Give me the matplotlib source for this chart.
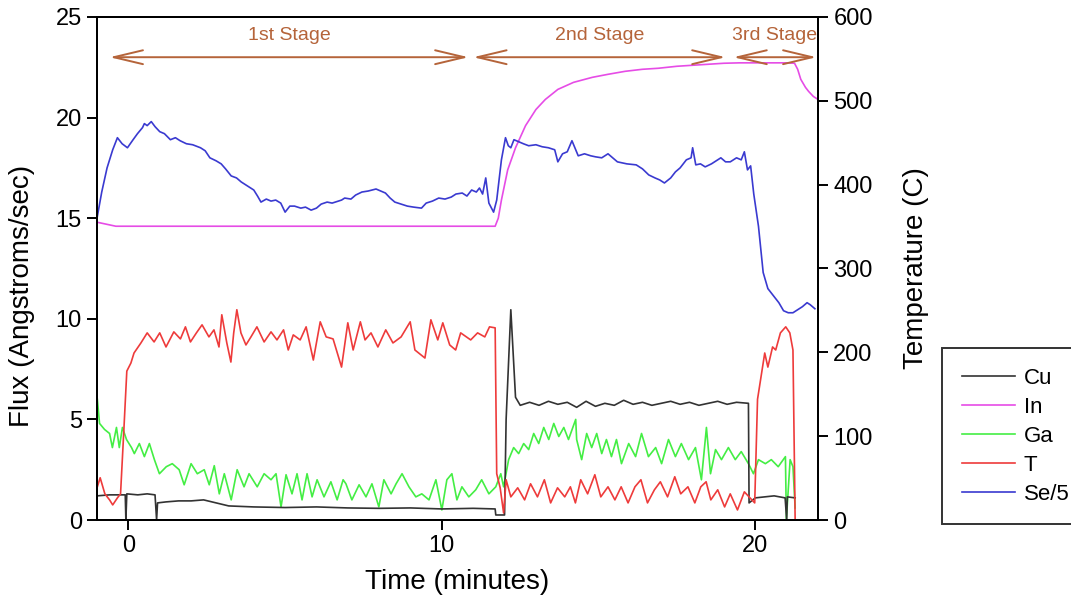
import matplotlib
matplotlib.use('Agg')
import matplotlib.pyplot as plt

plt.rcParams['font.family'] = ['Liberation Sans', 'DejaVu Sans']

# ---------------- data ----------------
t_T = [-1.0, -0.9, -0.75, -0.6, -0.5, -0.35, -0.25, -0.15, -0.05, 0.08, 0.18, 0.4, 0.6, 0.82, 1.0,
       1.2, 1.45, 1.66, 1.82, 1.98, 2.17, 2.35, 2.57, 2.73, 2.89, 2.98, 3.14, 3.27, 3.36, 3.46,
       3.59, 3.75, 3.91, 4.1, 4.33, 4.55, 4.74, 4.95, 5.1, 5.26, 5.48, 5.67, 5.9, 6.12, 6.31,
       6.53, 6.8, 7.0, 7.17, 7.4, 7.55, 7.74, 7.96, 8.21, 8.44, 8.7, 8.99, 9.14, 9.46, 9.65,
       9.87, 10.03, 10.25, 10.44, 10.6, 10.92, 11.14, 11.37, 11.52, 11.7, 11.75, 11.86, 11.97,
       12.05, 12.2, 12.42, 12.64, 12.83, 13.05, 13.27, 13.47, 13.69, 13.92, 14.1, 14.26, 14.43,
       14.65, 14.88, 15.07, 15.3, 15.52, 15.72, 15.94, 16.16, 16.35, 16.56, 16.78, 16.97, 17.2,
       17.43, 17.62, 17.85, 18.07, 18.26, 18.43, 18.58, 18.8, 19.02, 19.2, 19.43, 19.65, 19.8,
       19.98, 20.07, 20.17, 20.3, 20.4, 20.55, 20.65, 20.8, 20.97, 21.1, 21.2, 21.27]
T = [1.6, 2.1, 1.3, 1.0, 0.75, 1.1, 1.3, 4.3, 7.4, 7.8, 8.3, 8.8, 9.3, 8.85, 9.3,
     8.6, 9.35, 9.0, 9.6, 8.85, 9.3, 9.7, 9.1, 9.45, 8.6, 10.2, 8.8, 7.85, 9.3, 10.45,
     9.3, 8.7, 9.1, 9.6, 8.85, 9.35, 8.95, 9.45, 8.45, 9.2, 8.95, 9.6, 7.95, 9.85, 9.1,
     9.0, 7.6, 9.8, 8.45, 9.85, 8.95, 9.3, 8.6, 9.45, 8.8, 9.1, 9.85, 8.45, 8.05, 9.95,
     8.95, 9.8, 8.7, 8.45, 9.3, 8.95, 9.3, 9.1, 9.6, 9.55, 2.3, 1.6, 0.35,
     2.0, 1.15, 1.6, 1.0, 1.8, 1.15, 2.0, 0.85, 1.6, 1.15, 1.65, 0.85, 2.0,
     1.3, 2.25, 1.15, 1.65, 1.0, 1.65, 0.85, 1.65, 2.0, 0.85, 1.5, 1.9, 1.15,
     2.15, 1.3, 1.65, 0.85, 1.65, 1.9, 1.0, 1.5, 0.65, 1.3, 0.5, 1.4, 1.15,
     0.85, 6.0, 7.0, 8.3, 7.6, 8.6, 8.45, 9.3, 9.6, 9.3, 8.45, 0.0]

t_Cu = [-1.0, -0.6, -0.1, -0.08, -0.05, 0.3, 0.6, 0.85, 0.9, 0.93, 1.2, 1.6, 2.0, 2.4, 2.8,
        3.2, 4.0, 5.0, 6.0, 7.0, 8.0, 9.0, 10.0, 11.0, 11.7, 11.72, 12.0, 12.05, 12.2, 12.35,
        12.5, 12.8, 13.1, 13.4, 13.7, 14.0, 14.3, 14.6, 14.9, 15.2, 15.5, 15.8, 16.1, 16.4,
        16.7, 17.0, 17.3, 17.6, 17.9, 18.2, 18.5, 18.8, 19.1, 19.4, 19.78, 19.8, 20.0, 20.3,
        20.6, 20.95, 21.0, 21.02, 21.27]
Cu = [1.2, 1.25, 1.25, 0.0, 1.3, 1.25, 1.3, 1.25, 0.0, 0.85, 0.9, 0.95, 0.95, 1.0, 0.85,
      0.7, 0.65, 0.62, 0.65, 0.6, 0.58, 0.6, 0.55, 0.58, 0.55, 0.25, 0.25, 5.0, 10.45, 6.1,
      5.7, 5.85, 5.7, 5.9, 5.75, 5.85, 5.6, 5.9, 5.65, 5.8, 5.7, 5.95, 5.75, 5.85,
      5.7, 5.8, 5.9, 5.75, 5.85, 5.7, 5.8, 5.9, 5.75, 5.85, 5.8, 0.85, 1.1, 1.15,
      1.2, 1.1, 0.0, 1.15, 1.1]

t_Ga = [-0.99, -0.92, -0.76, -0.6, -0.51, -0.38, -0.29, -0.19, -0.06, 0.1, 0.19, 0.35, 0.51,
        0.67, 0.83, 0.99, 1.21, 1.4, 1.62, 1.78, 2.0, 2.2, 2.42, 2.58, 2.74, 2.9, 3.06, 3.28,
        3.47, 3.69, 3.85, 4.11, 4.33, 4.55, 4.71, 4.87, 5.03, 5.22, 5.38, 5.54, 5.7, 5.86,
        6.02, 6.24, 6.46, 6.66, 6.85, 6.94, 7.13, 7.36, 7.58, 7.77, 7.99, 8.15, 8.38, 8.54,
        8.73, 8.95, 9.17, 9.36, 9.59, 9.81, 10.0, 10.16, 10.32, 10.48, 10.64, 10.86, 11.08,
        11.27, 11.5, 11.72, 11.88, 11.97, 12.13, 12.29, 12.45, 12.61, 12.77, 12.93, 13.09,
        13.25, 13.41, 13.57, 13.73, 13.89, 14.04, 14.27, 14.3, 14.46, 14.62, 14.78, 14.94,
        15.1, 15.25, 15.41, 15.57, 15.73, 15.96, 16.18, 16.37, 16.59, 16.82, 17.01, 17.23,
        17.45, 17.64, 17.87, 18.09, 18.28, 18.44, 18.57, 18.73, 18.92, 19.14, 19.36, 19.55,
        19.78, 19.94, 20.1, 20.32, 20.51, 20.73, 20.96, 20.99, 21.11, 21.2, 21.27]
Ga = [6.0, 4.8, 4.5, 4.3, 3.6, 4.6, 3.6, 4.6, 4.0, 3.6, 3.3, 3.8, 3.15,
      3.8, 3.0, 2.3, 2.65, 2.8, 2.5, 1.75, 2.8, 2.3, 2.5, 1.75, 2.7, 1.3, 2.3, 1.0,
      2.5, 1.65, 2.3, 1.65, 2.3, 2.0, 2.3, 0.65, 2.25, 1.3, 2.3, 1.0, 2.3, 1.15,
      2.0, 1.15, 1.9, 1.0, 2.0, 1.8, 1.0, 1.75, 1.15, 1.8, 0.65, 2.0, 1.3, 1.8,
      2.3, 1.65, 1.15, 1.3, 1.0, 2.0, 0.5, 2.0, 2.3, 1.0, 1.65, 1.15, 1.5,
      2.0, 1.3, 1.65, 2.3, 1.65, 3.0, 3.6, 3.3, 3.8, 3.5, 4.3, 3.8,
      4.6, 4.0, 4.8, 4.15, 4.6, 4.0, 5.0, 4.0, 3.0, 4.3, 3.6, 4.3,
      3.3, 4.0, 3.15, 4.0, 2.8, 3.8, 3.15, 4.3, 3.15, 3.6, 2.8, 4.0,
      3.15, 3.8, 3.0, 3.6, 2.0, 4.6, 2.3, 3.5, 3.0, 3.6, 3.0, 3.4,
      2.8, 2.3, 3.0, 2.8, 3.0, 2.65, 3.15, 0.0, 3.0, 2.65, 0.6]

t_Se = [-1.0, -0.85, -0.68, -0.5, -0.35, -0.2, -0.03, 0.15, 0.29, 0.45, 0.51, 0.6, 0.73, 0.85,
        1.0, 1.15, 1.34, 1.5, 1.65, 1.85, 2.05, 2.3, 2.45, 2.6, 2.8, 2.96, 3.1, 3.28, 3.45,
        3.6, 3.8, 4.0, 4.12, 4.23, 4.4, 4.55, 4.7, 4.86, 5.0, 5.15, 5.3, 5.5, 5.65, 5.83, 6.0,
        6.15, 6.34, 6.5, 6.8, 6.9, 7.1, 7.25, 7.45, 7.65, 7.9, 8.05, 8.2, 8.35, 8.5, 8.7, 8.9,
        9.1, 9.35, 9.5, 9.7, 9.9, 10.1, 10.3, 10.45, 10.65, 10.8, 10.95, 11.1, 11.2, 11.3, 11.4,
        11.5, 11.65, 11.75, 11.9, 12.03, 12.12, 12.2, 12.3, 12.45, 12.6, 12.77, 13.0, 13.2,
        13.4, 13.6, 13.7, 13.85, 14.0, 14.15, 14.35, 14.55, 14.75, 14.9, 15.1, 15.3, 15.45,
        15.6, 15.9, 16.2, 16.4, 16.6, 16.8, 16.95, 17.1, 17.3, 17.45, 17.6, 17.8, 17.95, 18.0,
        18.1, 18.25, 18.4, 18.6, 18.75, 18.9, 19.05, 19.2, 19.4, 19.55, 19.65, 19.75, 19.85,
        19.95, 20.1, 20.25, 20.4, 20.6, 20.75, 20.9, 21.05, 21.2, 21.35, 21.5, 21.65, 21.75, 21.9]
Se5 = [15.0, 16.3, 17.5, 18.4, 19.0, 18.7, 18.5, 18.9, 19.2, 19.5, 19.7, 19.6, 19.8, 19.55,
       19.3, 19.2, 18.9, 19.0, 18.85, 18.7, 18.65, 18.5, 18.35, 18.0, 17.85, 17.7, 17.45, 17.1, 17.0,
       16.8, 16.6, 16.4, 16.1, 15.8, 15.95, 15.85, 15.9, 15.75, 15.3, 15.6, 15.6, 15.5, 15.55, 15.4, 15.5,
       15.7, 15.8, 15.75, 15.9, 16.0, 15.95, 16.15, 16.3, 16.35, 16.45, 16.35, 16.25, 16.0, 15.8, 15.7, 15.6,
       15.55, 15.5, 15.75, 15.85, 16.0, 15.95, 16.05, 16.2, 16.25, 16.1, 16.4, 16.3, 16.5, 16.2, 17.0,
       15.75, 15.3, 15.9, 17.9, 19.0, 18.6, 18.5, 18.9, 18.8, 18.7, 18.6, 18.65, 18.55,
       18.5, 18.4, 17.8, 18.2, 18.3, 18.85, 18.1, 18.2, 18.1, 18.05, 18.0, 18.2, 18.0,
       17.8, 17.7, 17.65, 17.45, 17.15, 17.0, 16.9, 16.75, 17.0, 17.3, 17.5, 17.9, 18.0, 18.5,
       17.65, 17.7, 17.55, 17.7, 17.85, 18.0, 17.8, 17.8, 18.0, 17.9, 18.3, 17.4, 17.6,
       16.2, 14.6, 12.3, 11.5, 11.1, 10.8, 10.4, 10.3, 10.3, 10.45, 10.6, 10.8, 10.7, 10.5]

t_In = [-1.0, -0.7, -0.4, 11.7, 11.8, 11.9, 12.1, 12.35, 12.67, 13.0, 13.3, 13.7, 14.2, 14.8,
        15.3, 15.85, 16.4, 16.9, 17.5, 18.0, 18.5, 19.0, 19.5, 20.0, 20.5, 21.0, 21.25, 21.35,
        21.45, 21.6, 21.7, 21.85, 22.0]
In = [14.8, 14.7, 14.6, 14.6, 15.0, 15.9, 17.4, 18.5, 19.6, 20.4, 20.9, 21.4, 21.75, 22.0,
      22.15, 22.3, 22.4, 22.45, 22.55, 22.6, 22.65, 22.7, 22.72, 22.72, 22.72, 22.72, 22.7, 22.4,
      21.9, 21.5, 21.3, 21.05, 20.9]

stage_labels = ['1st Stage', '2nd Stage', '3rd Stage']
stage_start = [-0.6, 11.0, 19.3]
stage_end = [10.85, 19.05, 21.95]
stage_level = 23.0

# ---------------- figure ----------------
fig = plt.figure(figsize=(10.71, 6.06), dpi=100)
ax = fig.add_axes([0.0906, 0.1419, 0.6732, 0.8301])

c_cu, c_in, c_ga, c_t, c_se = '#333333', '#e64ce6', '#44ee44', '#ee3b3b', '#3a3ad0'
lw = 1.2
l_cu, = ax.plot(t_Cu, Cu, color=c_cu, lw=lw, label='Cu', zorder=3)
l_in, = ax.plot(t_In, In, color=c_in, lw=lw, label='In', zorder=2)
l_ga, = ax.plot(t_Ga, Ga, color=c_ga, lw=lw, label='Ga', zorder=2)
l_t, = ax.plot(t_T, T, color=c_t, lw=lw, label='T', zorder=3)
l_se, = ax.plot(t_Se, Se5, color=c_se, lw=lw, label='Se/5', zorder=2)

ax.set_xlim(-1, 22)
ax.set_ylim(0, 25)
ax.set_xticks([0, 10, 20])
ax.set_yticks([0, 5, 10, 15, 20, 25])
for s in ax.spines.values():
    s.set_linewidth(1.4)
ax.tick_params(direction='out', length=7, width=1.4, labelsize=17, pad=4)

ax2 = ax.twinx()
ax2.set_ylim(0, 600)
ax2.set_yticks(range(0, 601, 100))
ax2.tick_params(direction='out', length=7, width=1.4, labelsize=17, pad=4)
for s in ax2.spines.values():
    s.set_linewidth(1.4)

ax.set_xlabel('Time (minutes)', fontsize=20)
ax.set_ylabel('Flux (Angstroms/sec)', fontsize=20)
ax2.set_ylabel('Temperature (C)', fontsize=20)
ax.xaxis.set_label_coords(0.50, -0.097)
ax.yaxis.set_label_coords(-0.086, 0.445)
ax2.yaxis.set_label_coords(1.118, 0.50)

brown = '#b5643a'
for lab, s0, s1 in zip(stage_labels, stage_start, stage_end):
    ax.annotate('', xy=(s1, stage_level), xytext=(s0, stage_level),
                arrowprops=dict(arrowstyle='<->,head_length=2.1,head_width=0.5',
                                color=brown, lw=1.4, shrinkA=0, shrinkB=0))
    ax.text((s0 + s1) / 2, stage_level + 0.65, lab, color=brown, fontsize=14,
            ha='center', va='bottom')

leg = fig.legend([l_cu, l_in, l_ga, l_t, l_se], ['Cu', 'In', 'Ga', 'T', 'Se/5'],
                 loc='upper left', bbox_to_anchor=(0.8796, 0.4257), frameon=True,
                 fancybox=False, edgecolor='black', fontsize=16, handlelength=2.4,
                 labelspacing=0.36, borderpad=0.88, handletextpad=0.4, borderaxespad=0)
leg.get_frame().set_linewidth(1.4)

fig.savefig('out.png', dpi=100)
